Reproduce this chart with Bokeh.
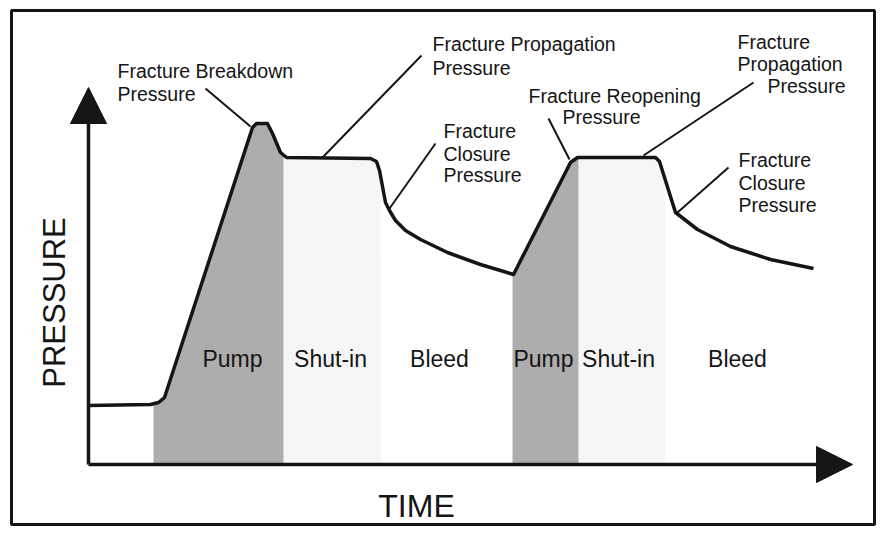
import numpy as np
from bokeh.plotting import figure
from bokeh.models import Arrow, NormalHead
from bokeh.embed import file_html
from bokeh.resources import INLINE
from bokeh.core.properties import value

# ---- data (schematic units: time, pressure) ----
time = [0, 62, 70, 76, 164, 168, 179, 184, 192, 198, 282, 288, 291, 297, 301, 307, 317, 332, 359, 392, 425,
        482, 489, 567, 571, 587, 609, 642, 682, 725]
pressure = [59, 60, 62, 67, 337, 341, 341, 331, 312, 307, 306, 303, 294, 262, 254, 244, 234, 225, 212, 200, 190,
            302, 307, 307, 303, 252, 235, 218, 205, 196]

pump_intervals = [(65, 195), (424, 490)]
shutin_intervals = [(195, 292), (490, 577)]

phase_names = ["Pump", "Shut-in", "Bleed", "Pump", "Shut-in", "Bleed"]
phase_time = [144, 242, 351, 455, 530, 649]
phase_level = [106, 106, 106, 106, 106, 106]

ann_text = ["Fracture Breakdown", "Pressure",
            "Fracture Propagation", "Pressure",
            "Fracture", "Closure", "Pressure",
            "Fracture Reopening", "Pressure",
            "Fracture", "Propagation", "Pressure",
            "Fracture", "Closure", "Pressure"]
ann_t = [29, 29, 344, 344, 355, 355, 355, 440, 474, 649, 649, 679, 650, 650, 650]
ann_p = [394, 371, 421, 397, 334, 311, 290, 369, 348, 423, 401, 379, 305, 282, 260]

leader_t0 = [117, 333, 347, 460, 665, 640]
leader_p0 = [376, 409, 321, 346, 382, 297]
leader_t1 = [162, 234, 301, 481, 555, 589]
leader_p1 = [338, 307, 256, 305, 309, 252]

axis_time_end = 764
axis_pressure_end = 377

INK = "#151515"
FONT = "Liberation Sans"

p = figure(width=877, height=527, x_range=(-88, 789), y_range=(-63, 464),
           x_axis_type=None, y_axis_type=None, toolbar_location=None,
           output_backend="svg", min_border=0, outline_line_color=None,
           background_fill_color="white", border_fill_color="white")
p.grid.visible = False

t_arr = np.array(time, dtype=float)
p_arr = np.array(pressure, dtype=float)

def region(a, b):
    inside = t_arr[(t_arr > a) & (t_arr < b)]
    xs = np.concatenate([[a], inside, [b]])
    ys = np.interp(xs, t_arr, p_arr)
    return xs, ys

for a, b in shutin_intervals:
    xs, ys = region(a, b)
    p.varea(x=xs, y1=np.zeros_like(xs), y2=ys, fill_color="#f6f6f6")

for a, b in pump_intervals:
    xs, ys = region(a, b)
    p.varea(x=xs, y1=np.zeros_like(xs), y2=ys, fill_color="#adadad")

# frame border
p.quad(left=-77, right=786, bottom=-60, top=454, fill_color=None, line_color=INK, line_width=3)

# pressure curve
p.line(time, pressure, line_color=INK, line_width=3.5, line_join="round")

# axes with arrows
p.add_layout(Arrow(x_start=0, y_start=0, x_end=0, y_end=axis_pressure_end, line_color=INK, line_width=3.5,
                   end=NormalHead(size=36, fill_color=INK, line_color=INK)))
p.add_layout(Arrow(x_start=0, y_start=0, x_end=axis_time_end, y_end=0, line_color=INK, line_width=3.5,
                   end=NormalHead(size=36, fill_color=INK, line_color=INK)))

# leader lines
p.segment(x0=leader_t0, y0=leader_p0, x1=leader_t1, y1=leader_p1, line_color=INK, line_width=2)

# annotation texts
p.text(x=ann_t, y=ann_p, text=ann_text, text_font=value(FONT), text_font_size="19.5px",
       text_color=INK, text_align="left", text_baseline="alphabetic")

# phase labels
p.text(x=phase_time, y=phase_level, text=phase_names, text_font=value(FONT), text_font_size="23px",
       text_color=INK, text_align="center", text_baseline="alphabetic")

# axis titles
p.text(x=[328], y=[-41], text=["TIME"], text_font=value(FONT), text_font_size="32px",
       text_color=INK, text_align="center", text_baseline="alphabetic")
p.text(x=[-34], y=[162], text=["PRESSURE"], text_font=value(FONT), text_font_size="31px",
       text_color=INK, text_align="center", text_baseline="alphabetic", angle=np.pi / 2)

open("out.html", "w").write(file_html(p, INLINE))
